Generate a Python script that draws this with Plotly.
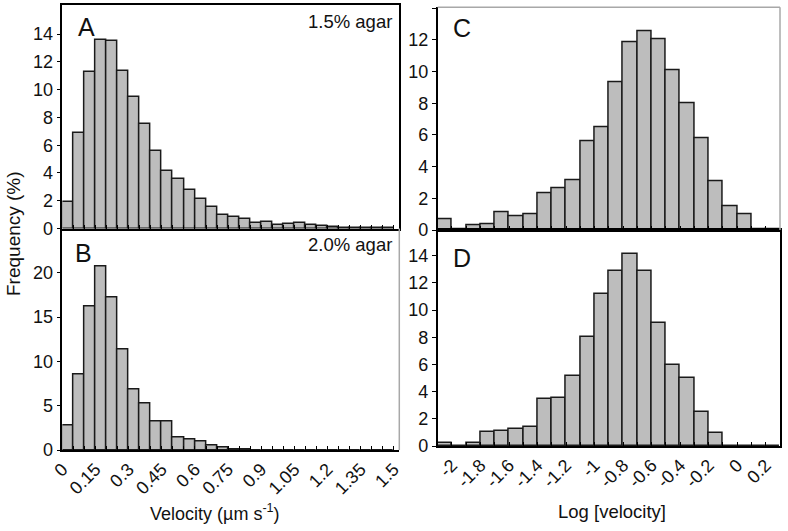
import plotly.graph_objects as go

# ---------------- data ----------------
vel_centers = [0.025, 0.075, 0.125, 0.175, 0.225, 0.275, 0.325, 0.375, 0.425, 0.475,
               0.525, 0.575, 0.625, 0.675, 0.725, 0.775, 0.825, 0.875, 0.925, 0.975,
               1.025, 1.075, 1.125, 1.175, 1.225, 1.275, 1.325, 1.375, 1.425, 1.475]
freq_a = [1.92, 6.9, 11.3, 13.55, 13.5, 11.35, 9.5, 7.5, 5.6, 4.14,
          3.56, 2.77, 2.09, 1.56, 0.98, 0.8, 0.68, 0.42, 0.47, 0.28,
          0.32, 0.4, 0.25, 0.19, 0.1, 0.06, 0.04, 0.02, 0.01, 0.01]
freq_b = [2.75, 8.5, 16.2, 20.7, 17.2, 11.4, 6.8, 5.2, 3.25, 3.17,
          1.4, 1.2, 0.98, 0.49, 0.3, 0.1, 0.1, 0.0, 0.0, 0.0,
          0.0, 0.0, 0.0, 0.0, 0.0, 0.0, 0.0, 0.0, 0.0, 0.0]

log_centers = [-2.05, -1.95, -1.85, -1.75, -1.65, -1.55, -1.45, -1.35, -1.25, -1.15,
               -1.05, -0.95, -0.85, -0.75, -0.65, -0.55, -0.45, -0.35, -0.25, -0.15,
               -0.05, 0.05, 0.15, 0.25]
freq_c = [0.65, 0.04, 0.27, 0.38, 1.1, 0.89, 1.01, 2.32, 2.64, 3.14,
          5.61, 6.46, 9.3, 11.86, 12.51, 12.05, 10.1, 8.0, 5.76, 3.1,
          1.5, 1.01, 0.06, 0.04]
freq_d = [0.25, 0.0, 0.25, 1.01, 1.08, 1.28, 1.38, 3.45, 3.52, 5.15,
          7.99, 11.2, 12.9, 14.17, 12.9, 9.05, 5.94, 4.98, 2.49, 0.94,
          0.0, 0.0, 0.0, 0.0]

vel_ticks = [0, 0.15, 0.3, 0.45, 0.6, 0.75, 0.9, 1.05, 1.2, 1.35, 1.5]
vel_ticktext = ["0", "0.15", "0.3", "0.45", "0.6", "0.75", "0.9", "1.05", "1.2", "1.35", "1.5"]
log_ticks = [-2, -1.8, -1.6, -1.4, -1.2, -1, -0.8, -0.6, -0.4, -0.2, 0, 0.2]
log_ticktext = ["-2", "-1.8", "-1.6", "-1.4", "-1.2", "-1", "-0.8", "-0.6", "-0.4", "-0.2", "0", "0.2"]

panel_labels = ["A", "B", "C", "D"]
agar_labels = ["1.5% agar", "2.0% agar"]

# ---------------- figure ----------------
W, H = 788, 531
FONT = "Liberation Sans, Arial, sans-serif"
BAR_FILL = "#bdbdbd"
BAR_LINE = "#1a1a1a"
GRAY = "#a8a8a8"


def px_x(p):
    return p / W


def px_y(p):
    return 1 - p / H


fig = go.Figure()

traces = [
    (vel_centers, freq_a, 0.05, "x", "y"),
    (vel_centers, freq_b, 0.05, "x2", "y2"),
    (log_centers, freq_c, 0.1, "x3", "y3"),
    (log_centers, freq_d, 0.1, "x4", "y4"),
]
for xs, ys, w, xa, ya in traces:
    fig.add_trace(go.Bar(
        x=xs, y=ys, width=w, xaxis=xa, yaxis=ya,
        marker=dict(color=BAR_FILL, line=dict(color=BAR_LINE, width=1.5)),
        showlegend=False, hoverinfo="x+y",
    ))

left_dom = [px_x(62.4), px_x(399.3)]
right_dom = [px_x(437.7), px_x(780)]
top_l = [px_y(228.5), px_y(5)]
bot_l = [px_y(450), px_y(228.5)]
top_r = [px_y(230), px_y(7.3)]
bot_r = [px_y(446), px_y(230)]

tickfont = dict(family=FONT, size=18, color="#111")

minor_vel = dict(dtick=0.05, tick0=0, ticks="inside", ticklen=4, tickcolor="black", tickwidth=1.2)
minor_log = dict(dtick=0.1, tick0=0, ticks="inside", ticklen=4, tickcolor="black", tickwidth=1.2)

base_x = dict(showline=True, linecolor="black", linewidth=1.5, ticks="inside",
              ticklen=4, tickwidth=1.2, tickcolor="black", showgrid=False,
              zeroline=False, automargin=False, tickfont=tickfont, tickangle=-45)
base_y = dict(showline=True, linecolor="black", linewidth=1.5, ticks="outside",
              ticklen=4, tickwidth=1.2, tickcolor="black", showgrid=False,
              zeroline=False, automargin=False, tickfont=tickfont)

vel_range = [0, 1.525]
log_range = [-2.1, 0.3]

fig.update_layout(
    width=W, height=H,
    margin=dict(l=0, r=0, t=0, b=0),
    paper_bgcolor="white", plot_bgcolor="white",
    bargap=0,
    font=dict(family=FONT, color="#111"),
    xaxis=dict(base_x, domain=left_dom, anchor="y", range=vel_range,
               tickvals=vel_ticks, showticklabels=False, mirror=True, minor=minor_vel),
    yaxis=dict(base_y, domain=top_l, anchor="x", range=[0, 16.1],
               tickvals=[0, 2, 4, 6, 8, 10, 12, 14], mirror=True),
    xaxis2=dict(base_x, domain=left_dom, anchor="y2", range=vel_range,
                tickvals=vel_ticks, ticktext=vel_ticktext, minor=minor_vel),
    yaxis2=dict(base_y, domain=bot_l, anchor="x2", range=[0, 25],
                tickvals=[0, 5, 10, 15, 20]),
    xaxis3=dict(base_x, domain=right_dom, anchor="y3", range=log_range,
                tickvals=log_ticks, showticklabels=False, minor=minor_log),
    yaxis3=dict(base_y, domain=top_r, anchor="x3", range=[0, 14.05],
                tickvals=[0, 2, 4, 6, 8, 10, 12, 14]),
    xaxis4=dict(base_x, domain=right_dom, anchor="y4", range=log_range,
                tickvals=log_ticks, ticktext=log_ticktext, mirror=True, minor=minor_log),
    yaxis4=dict(base_y, domain=bot_r, anchor="x4", range=[0, 15.9],
                tickvals=[0, 2, 4, 6, 8, 10, 12, 14], mirror=True),
)

# gray frame edges
shapes = [
    dict(type="line", xref="x2 domain", yref="y2 domain", x0=1, x1=1, y0=0, y1=1,
         line=dict(color=GRAY, width=1.5)),
    dict(type="line", xref="x3 domain", yref="y3 domain", x0=0, x1=1, y0=1, y1=1,
         line=dict(color=GRAY, width=1.5)),
    dict(type="line", xref="x3 domain", yref="y3 domain", x0=1, x1=1, y0=0, y1=1,
         line=dict(color=GRAY, width=1.5)),
]
fig.update_layout(shapes=shapes)

annotations = []
# panel letters
letter_pos = [(86.5, 26.7), (83, 253), (461.5, 28), (461.5, 258)]
for lab, (xp, yp) in zip(panel_labels, letter_pos):
    annotations.append(dict(text=lab, x=px_x(xp), y=px_y(yp), xref="paper", yref="paper",
                            showarrow=False, xanchor="center", yanchor="middle",
                            font=dict(family=FONT, size=25, color="#111")))
# agar labels
agar_pos = [(394, 21.7), (394, 245)]
for lab, (xp, yp) in zip(agar_labels, agar_pos):
    annotations.append(dict(text=lab, x=px_x(xp), y=px_y(yp), xref="paper", yref="paper",
                            showarrow=False, xanchor="right", yanchor="middle",
                            font=dict(family=FONT, size=18.5, color="#111")))
# axis titles
annotations.append(dict(text="Frequency (%)", x=px_x(14), y=px_y(234), xref="paper", yref="paper",
                        showarrow=False, textangle=-90, xanchor="center", yanchor="middle",
                        font=dict(family=FONT, size=19, color="#111")))
annotations.append(dict(text="Velocity (µm s<sup>-1</sup>)", x=px_x(215), y=px_y(512), xref="paper",
                        yref="paper", showarrow=False, xanchor="center", yanchor="middle",
                        font=dict(family=FONT, size=18, color="#111")))
annotations.append(dict(text="Log [velocity]", x=px_x(611.7), y=px_y(511.7), xref="paper",
                        yref="paper", showarrow=False, xanchor="center", yanchor="middle",
                        font=dict(family=FONT, size=18.5, color="#111")))
fig.update_layout(annotations=annotations)

fig.write_html("out.html",
               config={"displayModeBar": False},
               post_script="document.body.style.margin='0';document.body.style.padding='0';")
